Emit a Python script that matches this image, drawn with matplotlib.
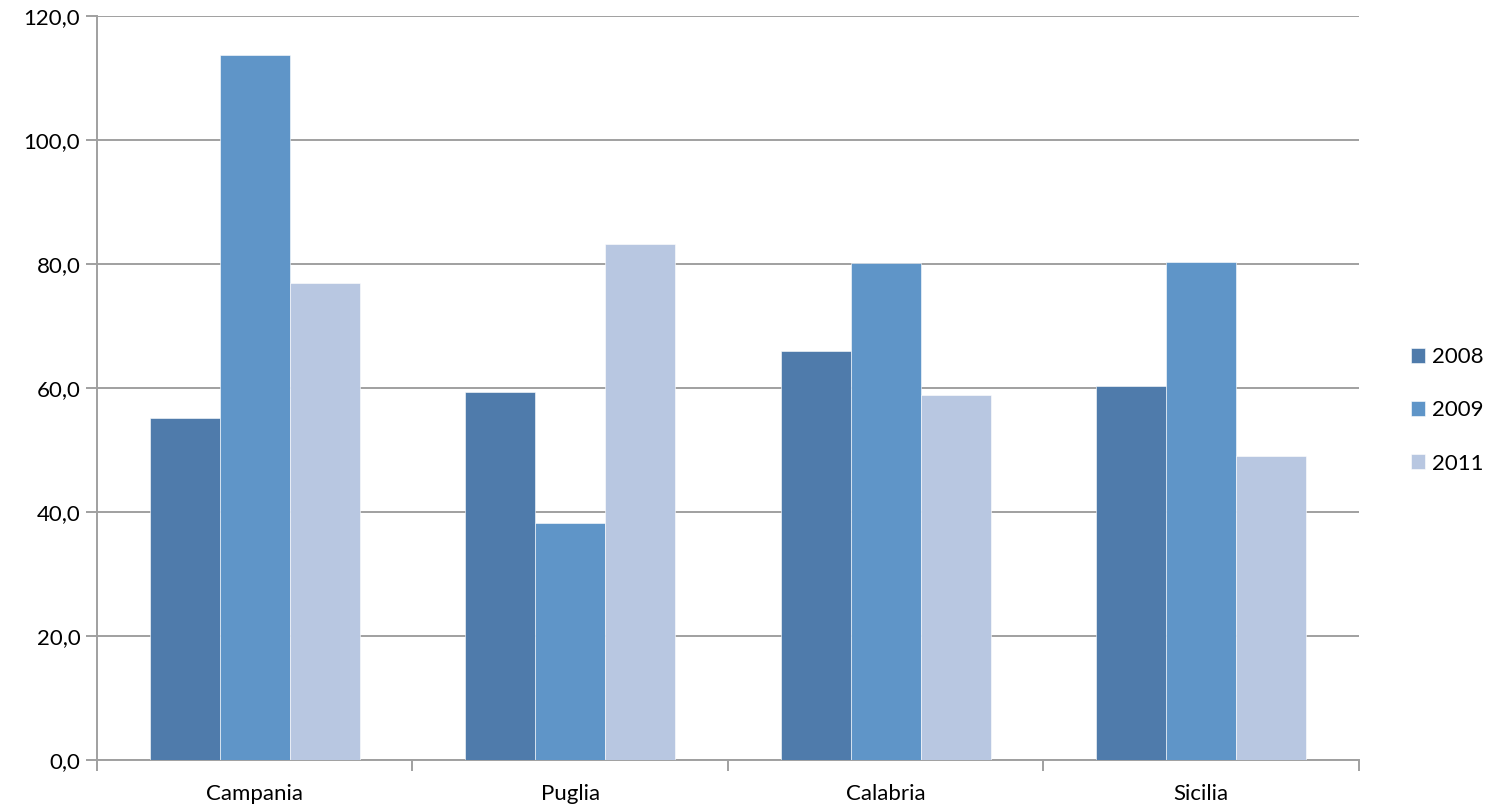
import numpy as np
import matplotlib.pyplot as plt

regioni = ["Campania", "Puglia", "Calabria", "Sicilia"]
anni = ["2008", "2009", "2011"]
v2008 = [55.2, 59.4, 66.0, 60.3]
v2009 = [113.7, 38.2, 80.2, 80.3]
v2011 = [76.9, 83.2, 58.9, 49.0]
colori = ["#4f7bab", "#5f95c8", "#b8c7e1"]

plt.rcParams['font.family'] = ['Lato', 'DejaVu Sans']

fig = plt.figure(figsize=(14.89, 8.08), dpi=100)
ax = fig.add_axes([0.0651, 0.0594, 0.8476, 0.9208])

x = np.arange(len(regioni)) + 0.5
w = 0.222
for i, (serie, col, anno) in enumerate(zip([v2008, v2009, v2011], colori, anni)):
    ax.bar(x + (i - 1) * w, serie, width=w, color=col, label=anno,
           edgecolor='white', linewidth=0.4, zorder=3)

ax.set_xlim(0, 4)
ax.set_ylim(0, 120)
ax.set_yticks(np.arange(0, 121, 20))
ax.set_yticklabels([f"{t:.1f}".replace('.', ',') for t in np.arange(0, 121, 20)])
ax.yaxis.grid(True, color='#a0a0a0', linewidth=1.4, zorder=0)

# category labels at the centres, tick marks on the boundaries
ax.set_xticks(np.arange(0, 5))
ax.set_xticklabels([])
ax.set_xticks(x, minor=True)
ax.set_xticklabels(regioni, minor=True)
ax.tick_params(axis='x', which='minor', length=0, pad=17, labelsize=16)
ax.tick_params(axis='x', which='major', length=8, width=1.4, color='#a0a0a0')
ax.tick_params(axis='y', length=8, width=1.4, color='#a0a0a0', labelsize=16, pad=4)

for s in ['top', 'right']:
    ax.spines[s].set_visible(False)
for s in ['left', 'bottom']:
    ax.spines[s].set_color('#a0a0a0')
    ax.spines[s].set_linewidth(1.4)

ax.legend(loc='center left', bbox_to_anchor=(1.025, 0.47), frameon=False,
          fontsize=16, handlelength=0.65, handleheight=0.65, handletextpad=0.3,
          labelspacing=1.5)

fig.savefig("out.png", dpi=100)
